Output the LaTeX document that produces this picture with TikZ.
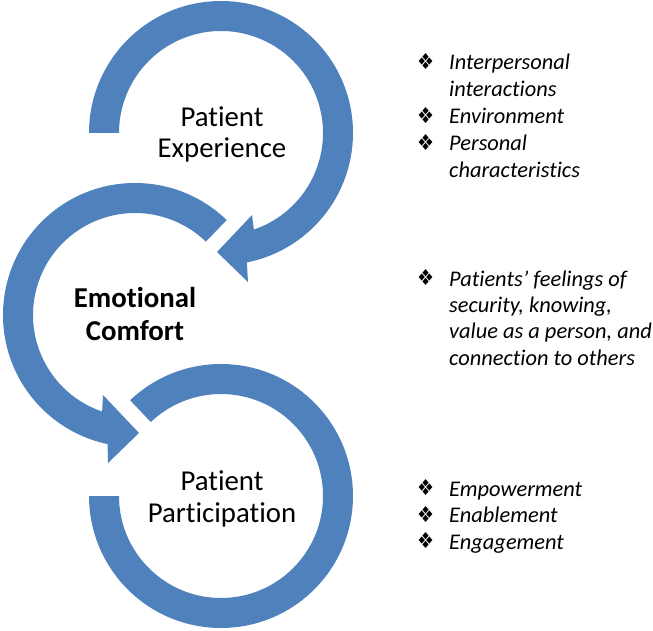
\documentclass[tikz,border=0pt]{standalone}
\usepackage{graphicx}
\usepackage{fontspec}
\setmainfont{Carlito}[Ligatures=NoCommon]
\newfontfamily\symfont{DejaVu Sans}
\usetikzlibrary{calc}
\definecolor{ringblue}{RGB}{79,129,189}
\newcommand{\listbul}{\makebox[32pt][l]{\raisebox{0.5pt}{\resizebox{17pt}{16pt}{\symfont ❖}}}}
\newcommand{\listgap}{\hspace*{32pt}}

\begin{document}
\begin{tikzpicture}[x=1pt,y=1pt,
    ring/.style={fill=ringblue},
    ringlabel/.style={align=center,inner sep=0pt,anchor=base,font=\fontsize{28.8}{31.5}\selectfont},
    notes/.style={align=left,inner sep=0pt,anchor=base west,font=\fontsize{22.4}{27}\selectfont\itshape}]
\useasboundingbox (0,0) rectangle (653,630);
\coordinate (exp) at (221,497);
\coordinate (emo) at (135,315);
\coordinate (par) at (221,134);

% top ring with its head
\fill[ring] ($(exp)+(180:132)$) arc[start angle=180,end angle=-78.7,radius=132]
    -- (248,348) -- (217,378) -- (252,415)
    -- ($(exp)+(-71.2:102)$) arc[start angle=-71.2,end angle=180,radius=102] -- cycle;
% middle ring with its head
\fill[ring] ($(emo)+(46:132)$) arc[start angle=46,end angle=258,radius=132]
    -- (108,167) -- (139,197) -- (103,235)
    -- ($(emo)+(251.2:102)$) arc[start angle=251.2,end angle=46,radius=102] -- cycle;
% bottom ring, no head
\fill[ring] ($(par)+(133.5:132)$) arc[start angle=133.5,end angle=-180,radius=132]
    -- ($(par)+(180:102)$) arc[start angle=-180,end angle=133.5,radius=102] -- cycle;

% labels sit on the baseline of their last line
\node[ringlabel] (explabel) at (222,472) {Patient\\Experience};
\node[ringlabel,font=\fontsize{28.8}{33}\selectfont\bfseries] (emolabel) at (135,290) {Emotional\\Comfort};
\node[ringlabel] (parlabel) at (222,108) {Patient\\Participation};

\node[notes] (expnotes) at (417,452) {\listbul Interpersonal\\\listgap interactions\\\listbul Environment\\\listbul Personal\\\listgap characteristics};
\node[notes,font=\fontsize{22.4}{26.3}\selectfont\itshape] (emonotes) at (417,265) {\listbul Patients’ feelings of\\\listgap security, knowing,\\\listgap value as a person, and\\\listgap connection to others};
\node[notes,font=\fontsize{22.4}{26.5}\selectfont\itshape] (parnotes) at (417,81) {\listbul Empowerment\\\listbul Enablement\\\listbul Engagement};
\end{tikzpicture}
\end{document}
